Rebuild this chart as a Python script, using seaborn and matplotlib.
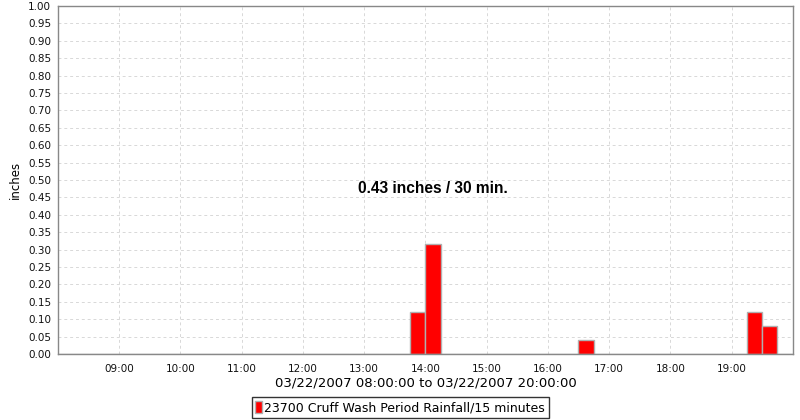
import matplotlib
matplotlib.use("Agg")
import matplotlib.pyplot as plt
import seaborn as sns
import numpy as np
import pandas as pd
from matplotlib.patches import Patch

# Data
bar_starts = ["13:45", "14:00", "16:30", "19:15", "19:30"]
rainfall = [0.12, 0.315, 0.04, 0.12, 0.08]
xtick_labels = ["09:00", "10:00", "11:00", "12:00", "13:00", "14:00",
                "15:00", "16:00", "17:00", "18:00", "19:00"]
series_name = "23700 Cruff Wash Period Rainfall/15 minutes"
annotation = "0.43 inches / 30 min."
xlabel = "03/22/2007 08:00:00 to 03/22/2007 20:00:00"

def to_hours(s):
    h, m = s.split(":")
    return int(h) + int(m) / 60.0

df = pd.DataFrame({
    "hour": [to_hours(s) + 0.125 for s in bar_starts],
    "rain": rainfall,
})

sns.set_style("white")
plt.rcParams["font.family"] = ["DejaVu Sans"]
plt.rcParams["text.color"] = "black"
plt.rcParams["axes.labelcolor"] = "black"

fig = plt.figure(figsize=(8, 4.2), dpi=100)
ax = fig.add_axes([0.0725, 0.157, 0.9185, 0.8287])

sns.histplot(data=df, x="hour", weights="rain", binwidth=0.25,
             binrange=(8, 20), ax=ax,
             color="#ff0000", alpha=1, edgecolor="#b0b0b0", linewidth=1)

ax.set_xlim(8, 20)
ax.set_ylim(0, 1.0)
ax.set_xticks([to_hours(t) for t in xtick_labels])
ax.set_xticklabels(xtick_labels)
ax.set_yticks(np.arange(0, 1.0001, 0.05))
ax.set_yticklabels([f"{v:.2f}" for v in np.arange(0, 1.0001, 0.05)])
ax.tick_params(axis="both", labelsize=7.5, length=3, color="#888888",
               direction="out", pad=2, labelcolor="#111111")
ax.tick_params(axis="x", pad=4)
ax.grid(True, color="#d8d8d8", linestyle=(0, (3, 3)), linewidth=0.7)
ax.set_axisbelow(True)
for sp in ax.spines.values():
    sp.set_color("#888888")
    sp.set_linewidth(1)

ax.set_ylabel("inches", fontsize=8.5, labelpad=4)
ax.set_xlabel(xlabel, fontsize=9.5, labelpad=2)

ax.text(14.12, 0.477, annotation, ha="center", va="center", color="black",
        fontsize=11.2, fontweight="bold", family=["Liberation Sans"])

handle = Patch(facecolor="#ff0000", edgecolor="#b0b0b0")
leg = fig.legend([handle], [series_name], loc="lower center",
                 bbox_to_anchor=(0.5, -0.01), fontsize=9, frameon=True,
                 fancybox=False, handlelength=0.5, handleheight=1.1,
                 handletextpad=0.2, borderpad=0.3)
leg.get_frame().set_edgecolor("black")
leg.get_frame().set_linewidth(1)

fig.savefig("out.png", dpi=100)
